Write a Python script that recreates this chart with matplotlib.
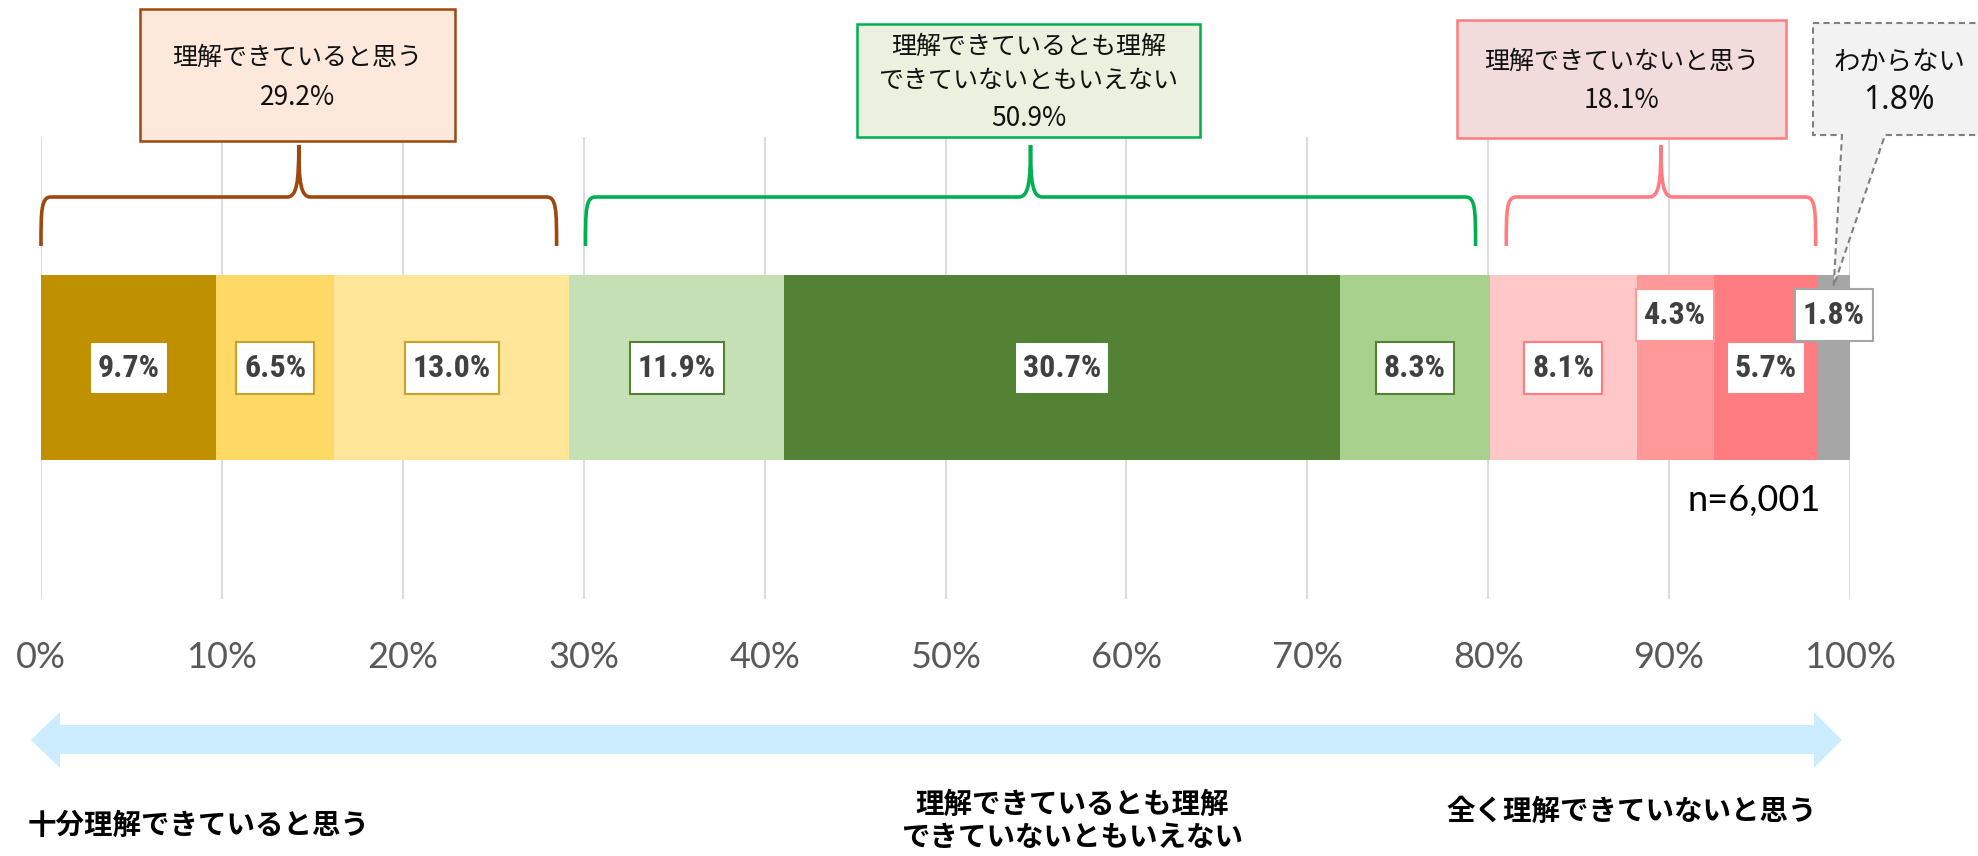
import numpy as np
import matplotlib
matplotlib.use("Agg")
import matplotlib.pyplot as plt
from matplotlib.patches import Rectangle, Polygon, PathPatch
from matplotlib.path import Path

plt.rcParams["font.family"] = ["Noto Sans CJK JP", "DejaVu Sans"]

# --- data -------------------------------------------------------------
values = [9.7, 6.5, 13.0, 11.9, 30.7, 8.3, 8.1, 4.3, 5.7, 1.8]
bar_colors = ["#BF9000", "#FFD966", "#FFE699", "#C5E0B4", "#548235",
              "#A9D18E", "#FFC7C7", "#FF9999", "#FF7C80", "#A6A6A6"]
label_edges = ["#BF9000", "#C9A227", "#C9A227", "#548235", "#548235",
               "#548235", "#FF7C80", "#FF9999", "#FF7C80", "#A6A6A6"]
raised = [7, 9]  # labels lifted above the others

groups = [[0, 1, 2], [3, 4, 5], [6, 7, 8], [9]]
group_titles = [["理解できていると思う"],
                ["理解できているとも理解", "できていないともいえない"],
                ["理解できていないと思う"],
                ["わからない"]]
ticks = np.arange(0, 101, 10)
tick_labels = [f"{t}%" for t in ticks]
n_label = "n=6,001"
scale_labels = [["十分理解できていると思う"],
                ["理解できているとも理解", "できていないともいえない"],
                ["全く理解できていないと思う"]]

# --- layout (pixels) --------------------------------------------------
W, H = 1978, 856
X0, X100 = 41, 1850
PX = (X100 - X0) / 100.0
BAR_Y, BAR_H = 367.5, 185
YB, YH, YT = 246, 197, 145          # brace bottom / shoulder / tip

brace_colors = ["#9E480E", "#00B050", "#FF7C80"]
brace_lpad = [0.0, 0.9, 0.9]
brace_rpad = [0.7, 0.8, 0.1]
box_fc = ["#FCE9DC", "#EBF1DE", "#F2DCDB", "#F2F2F2"]
box_ec = ["#9E480E", "#00B050", "#FF7C80", "#808080"]
box_rects = [(140, 9, 455, 141), (857, 24, 1200, 137),
             (1457, 20, 1786, 138), (1813, 23, 2010, 135)]
box_lines_y = [[58, 97], [47, 81, 118], [62, 100], [63, 100]]
narrow = ["Liberation Sans Narrow", "Noto Sans Condensed",
          "Roboto Condensed", "Liberation Sans", "DejaVu Sans"]

fig = plt.figure(figsize=(W / 100, H / 100), dpi=100)
ax = fig.add_axes([X0 / W, 0, (X100 - X0) / W, 1])
ax.set_xlim(0, 100)
ax.set_ylim(H, 0)
ax.axis("off")

lay = fig.add_axes([0, 0, 1, 1])
lay.set_xlim(0, W)
lay.set_ylim(H, 0)
lay.axis("off")
lay.patch.set_alpha(0)

lefts = np.concatenate([[0], np.cumsum(values)[:-1]])

# grid + ticks
ax.vlines(ticks, 137, 599, color="#D9D9D9", lw=1.3, zorder=1)
for t, lab in zip(ticks, tick_labels):
    ax.text(t, 657, lab, ha="center", va="center", fontsize=26,
            color="#595959", family=["Lato", "DejaVu Sans"], clip_on=False)

# stacked bar
ax.barh(BAR_Y, values, left=lefts, height=BAR_H, color=bar_colors,
        zorder=2, clip_on=False)

for i, v in enumerate(values):
    y = 315 if i in raised else 368
    ax.text(lefts[i] + v / 2, y, f"{v:.1f}%", ha="center", va="center",
            fontsize=23, weight="bold", color="#404040",
            family=narrow, zorder=4,
            bbox=dict(boxstyle="square,pad=0.25", fc="white",
                      ec=label_edges[i], lw=1.5, mutation_aspect=1.35))


def brace(x0, x1, color):
    xt = (x0 + x1) / 2
    dc, dt = 10 / PX, 12 / PX
    verts = [(x0, YB), (x0, YH + 14), (x0, YH), (x0 + dc, YH),
             (xt - dt, YH),
             (xt - 2 / PX, YH), (xt, YH - 14), (xt, YT),
             (xt, YH - 14), (xt + 2 / PX, YH), (xt + dt, YH),
             (x1 - dc, YH),
             (x1, YH), (x1, YH + 14), (x1, YB)]
    C = Path.CURVE4
    codes = [Path.MOVETO, C, C, C, Path.LINETO, C, C, C, C, C, C,
             Path.LINETO, C, C, C]
    ax.add_patch(PathPatch(Path(verts, codes), fc="none", ec=color,
                           lw=2.6, clip_on=False, zorder=3))


cum = np.cumsum(values)
totals = []
for gi, idx in enumerate(groups):
    start, end = lefts[idx[0]], cum[idx[-1]]
    totals.append(sum(values[j] for j in idx))
    if gi < 3:
        brace(start + brace_lpad[gi], end - brace_rpad[gi], brace_colors[gi])

# callout boxes
for gi in range(4):
    x0, y0, x1, y1 = box_rects[gi]
    if gi < 3:
        lay.add_patch(Rectangle((x0, y0), x1 - x0, y1 - y0, fc=box_fc[gi],
                                ec=box_ec[gi], lw=1.8))
    else:
        tip = X0 + PX * (lefts[9] + values[9] / 2)
        pts = [(x0, y0), (x1, y0), (x1, y1), (1885, y1), (tip, 286),
               (1842, y1), (x0, y1)]
        lay.add_patch(Polygon(pts, closed=True, fc=box_fc[gi], ec=box_ec[gi],
                              lw=1.5, ls=(0, (3, 2)), zorder=5))
    cx = (x0 + x1) / 2
    lines = group_titles[gi] + [f"{totals[gi]:.1f}%"]
    for k, (ln, ly) in enumerate(zip(lines, box_lines_y[gi])):
        last = k == len(lines) - 1
        if gi == 3:
            fs = 23 if last else 19
            fam = ["Noto Sans", "DejaVu Sans"] if last else \
                ["Noto Sans CJK JP", "DejaVu Sans"]
            tx = 1899
        else:
            fs = 19 if last else 18
            fam = ["Noto Sans CJK JP", "DejaVu Sans"]
            tx = cx
        lay.text(tx, ly, ln, ha="center", va="center", fontsize=fs,
                 color="#111111", family=fam, zorder=6)

# n label
lay.text(1821, 500, n_label, ha="right", va="center", fontsize=26,
         color="black", family=["Lato", "DejaVu Sans"])

# bottom double arrow
arrow = [(31, 740), (60, 712), (60, 725), (1814, 725), (1814, 712),
         (1842, 740), (1814, 768), (1814, 754), (60, 754), (60, 768)]
lay.add_patch(Polygon(arrow, closed=True, fc="#CCECFF", ec="none"))

# scale labels under the arrow
scale_pos = [(199, [826]), (1072, [805, 838]), (1632, [812])]
for lines, (sx, ys) in zip(scale_labels, scale_pos):
    for ln, ly in zip(lines, ys):
        lay.text(sx, ly, ln, ha="center", va="center", fontsize=20.5,
                 weight="bold", color="black")

fig.savefig("out.png", dpi=100)
